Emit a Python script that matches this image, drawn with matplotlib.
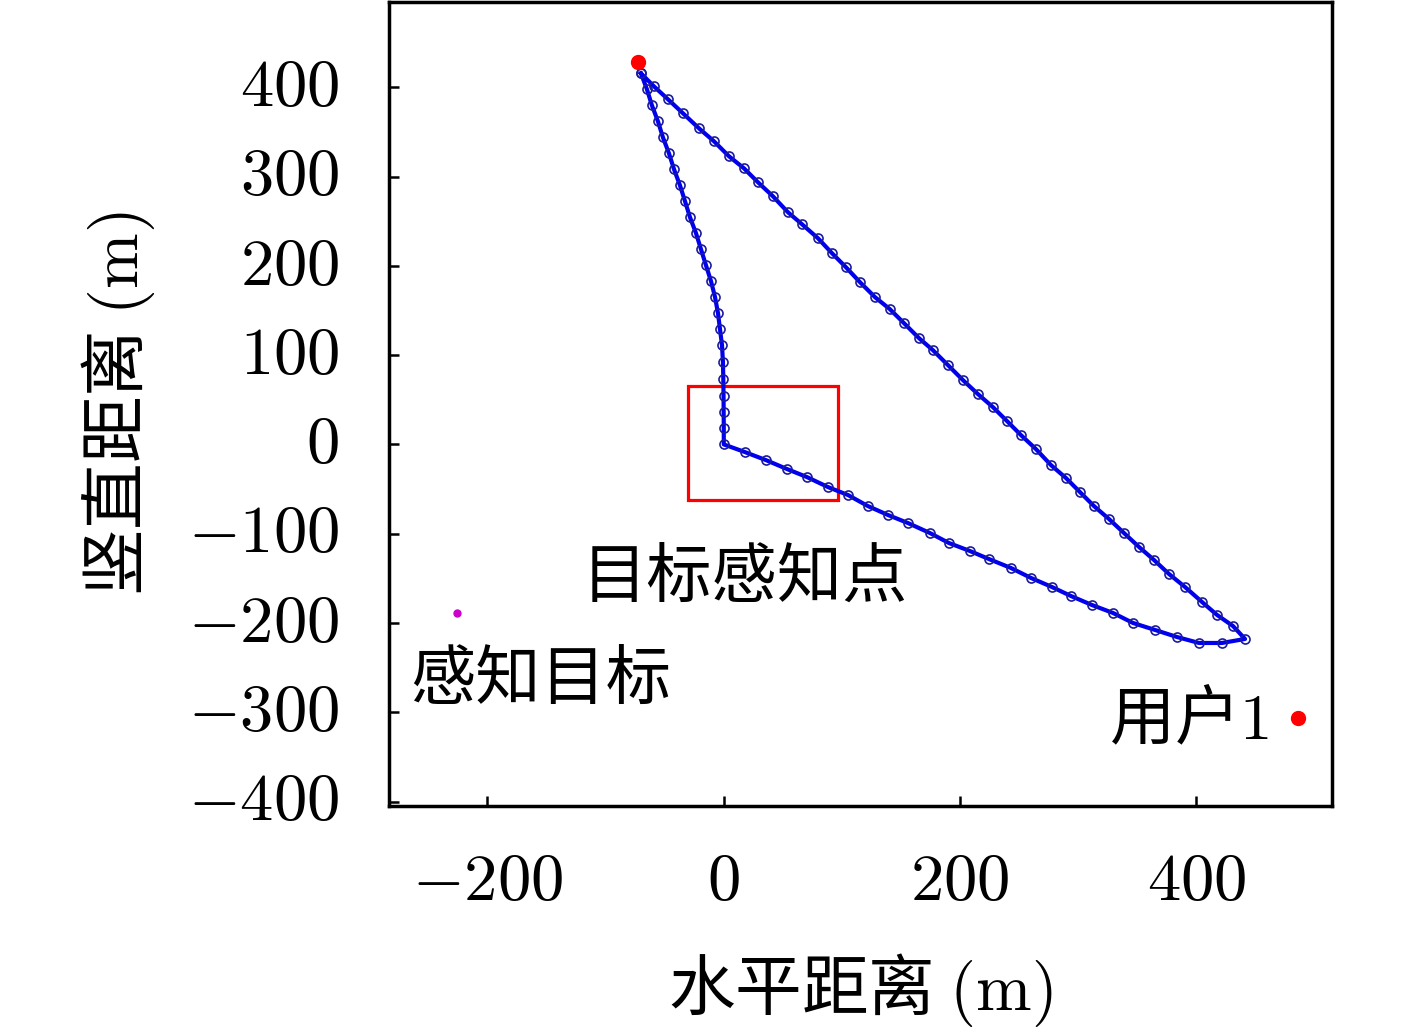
import matplotlib
matplotlib.use("Agg")
import matplotlib.pyplot as plt
from matplotlib.patches import Rectangle

plt.rcParams['font.family'] = ['Noto Sans CJK SC', 'DejaVu Sans']
plt.rcParams['mathtext.fontset'] = 'cm'

# Trajectory leg 1: start -> target sensing point (0,0)
leg1_x = [-70.1, -65.0, -60.8, -55.7, -51.5, -46.4, -42.1, -37.1, -32.8, -28.6, -23.5, -19.3,
          -15.1, -10.8, -7.4, -4.9, -3.2, -1.5, -0.7, -0.4, -0.2, -0.1, 0.0, 0.0]
leg1_y = [415.6, 397.6, 379.7, 361.8, 343.9, 326.0, 308.1, 290.2, 272.3, 254.4, 236.5, 218.6,
          200.7, 182.8, 164.9, 147.0, 129.0, 111.1, 92.1, 73.1, 54.1, 36.2, 18.2, 0.0]
# Leg 2: (0,0) -> near user 1
leg2_x = [17.9, 35.7, 53.5, 70.4, 88.2, 105.1, 122.0, 139.0, 155.9, 174.5, 190.6, 208.3, 224.4,
          243.0, 260.0, 277.7, 293.8, 311.6, 329.4, 346.3, 364.9, 383.5, 402.1, 421.6, 441.1]
leg2_y = [-8.6, -17.6, -27.6, -36.6, -47.8, -56.7, -69.1, -79.1, -88.1, -99.3, -110.5, -119.4,
          -128.4, -138.4, -149.6, -159.7, -169.8, -179.9, -188.8, -200.0, -207.8, -215.7,
          -222.4, -222.4, -217.9]
# Leg 3: back to start
leg3_x = [430.9, 417.4, 404.7, 390.3, 376.8, 364.1, 351.4, 338.7, 326.0, 313.3, 301.4, 289.6,
          276.9, 264.2, 251.5, 239.7, 227.8, 215.1, 202.4, 189.7, 177.0, 165.2, 152.5, 140.6,
          128.0, 115.3, 103.4, 91.6, 79.7, 66.2, 54.3, 41.6, 28.9, 17.1, 4.4, -8.3, -21.0,
          -34.5, -47.2, -59.1, -70.1]
leg3_y = [-203.4, -191.0, -176.5, -159.7, -145.2, -129.5, -114.9, -99.3, -83.6, -69.1, -53.4,
          -37.7, -23.2, -5.3, 10.4, 26.1, 41.7, 56.3, 72.0, 88.8, 105.5, 119.0, 135.8, 151.4,
          164.9, 181.6, 198.4, 214.1, 230.9, 246.6, 260.0, 277.9, 293.6, 309.2, 322.7, 339.5,
          354.0, 370.8, 386.5, 401.0, 415.6]

uav_start = (-72.6, 428.0)
user1 = (486.0, -306.0)
target = (-226.0, -189.0)
box_x0, box_y0, box_w, box_h = -30.0, -62.0, 127.0, 127.0

labels = ['目标感知点', '感知目标', '用户$1$']
label_pos = [(18.0, -150.0), (-154.7, -264.6), (393.8, -310.2)]

xticks = [-200, 0, 200, 400]
yticks = [-400, -300, -200, -100, 0, 100, 200, 300, 400]
xlim = (-283.3, 514.7)
ylim = (-405.0, 495.5)

fig = plt.figure(figsize=(14.17, 10.33), dpi=100)
ax = fig.add_axes([389/1417, 1-806/1033, (1332-389)/1417, (806-2)/1033])

traj_x = leg1_x + leg2_x + leg3_x
traj_y = leg1_y + leg2_y + leg3_y

ax.add_patch(Rectangle((box_x0, box_y0), box_w, box_h, fill=False, edgecolor='red', lw=2.3, zorder=2))
ax.plot(traj_x, traj_y, '-', color='#0000ee', lw=3.0, marker='o', markersize=6.5,
        markerfacecolor='none', markeredgecolor='#1c1c9a', markeredgewidth=1.2, zorder=3)
ax.plot([uav_start[0]], [uav_start[1]], 'o', color='red', markersize=10, zorder=4)
ax.plot([user1[0]], [user1[1]], 'o', color='red', markersize=10, zorder=4)
ax.plot([target[0]], [target[1]], 'o', color='#cc00cc', markersize=5, zorder=4)

for t, (tx, ty) in zip(labels, label_pos):
    ax.text(tx, ty, t, fontsize=47, ha='center', va='center')

ax.set_xlim(*xlim)
ax.set_ylim(*ylim)
ax.set_xticks(xticks)
ax.set_yticks(yticks)
ax.set_xticklabels([f'${v}$' for v in xticks])
ax.set_yticklabels([f'${v}$' for v in yticks])
ax.tick_params(axis='both', direction='in', length=7, width=1.8, labelsize=48,
               top=False, right=False)
ax.tick_params(axis='x', pad=30)
ax.tick_params(axis='y', pad=36)
for lab in ax.get_yticklabels():
    lab.set_va('center')
for s in ax.spines.values():
    s.set_linewidth(2.5)

ax.set_xlabel('水平距离 $(\\mathrm{m})$', fontsize=48, va='center')
ax.xaxis.set_label_coords(0.5, (806-990)/804)
ax.set_ylabel('竖直距离 $(\\mathrm{m})$', fontsize=48, va='center')
ax.yaxis.set_label_coords((118-389)/943, 0.5)

fig.savefig('out.png', dpi=100, facecolor='white')
